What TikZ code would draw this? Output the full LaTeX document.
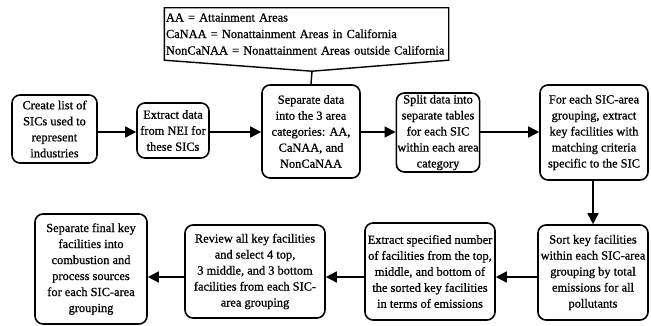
\documentclass[tikz,border=0pt]{standalone}
\usepackage{fontspec}
\setmainfont{Liberation Serif}[FakeBold=0.8]
\usetikzlibrary{arrows.meta,calc}
\begin{document}
\begin{tikzpicture}[x=1pt,y=-1pt,
  every node/.style={font=\fontsize{12.4}{16}\selectfont},
  stepbox/.style={draw, line width=1.6pt, rounded corners=8pt, align=center,
    inner sep=1pt},
  flow/.style={line width=1.6pt, -{Triangle[length=11pt,width=11pt]}}]
\useasboundingbox (0,0) rectangle (651,326);

% heights of the two rows of arrows
\coordinate (toprow) at (0,132);
\coordinate (lowrow) at (0,277);

% legend callout
\node[align=left, minimum width=284pt, minimum height=52pt, inner sep=1.5pt,
  text width=281pt] (legend) at (306.5,34)
  {AA = Attainment Areas\\[0.5pt]
   CaNAA = Nonattainment Areas in California\\[0.5pt]
   NonCaNAA = Nonattainment Areas outside California};
\coordinate (tip) at ($(legend.south)+(5.5,11)$);
\draw[line width=1.4pt, line join=miter]
  (legend.north west) -- (legend.north east) -- (legend.south east)
  -- (tip) -- (legend.south west) -- cycle;

% top row
\node[stepbox, minimum width=85pt, minimum height=68pt] (b1) at (54.5,129)
  {Create list of\\SICs used to\\represent\\industries};
\node[stepbox, minimum width=72pt, minimum height=55pt] (b2) at (173,130.5)
  {Extract data\\from NEI for\\these SICs};
\node[stepbox, minimum width=98pt, minimum height=93pt] (b3) at (311,131.5)
  {Separate data\\into the 3 area\\categories: AA,\\CaNAA, and\\NonCaNAA};
\node[stepbox, minimum width=76pt, minimum height=79pt] (b4) at (438,132.5)
  {Split data into\\separate tables\\for each SIC\\within each area\\category};
\node[stepbox, minimum width=108pt, minimum height=95pt] (b5) at (594,132.5)
  {For each SIC-area\\grouping, extract\\key facilities with\\matching criteria\\specific to the SIC};

% bottom row
\node[stepbox, minimum width=110pt, minimum height=95pt] (b6) at (593,272.5)
  {Sort key facilities\\within each SIC-area\\grouping by total\\emissions for all\\pollutants};
\node[stepbox, minimum width=130pt, minimum height=97pt] (b7) at (430,271.5)
  {Extract specified number\\of facilities from the top,\\middle, and bottom of\\the sorted key facilities\\in terms of emissions};
\node[stepbox, minimum width=140pt, minimum height=93pt] (b8) at (255,271.5)
  {Review all key facilities\\and select 4 top,\\3 middle, and 3 bottom\\facilities from each SIC-\\area grouping};
\node[stepbox, minimum width=112pt, minimum height=110pt] (b9) at (91,269)
  {Separate final key\\facilities into\\combustion and\\process sources\\for each SIC-area\\grouping};

% connectors
\draw[line width=1.4pt] (tip) -- (b3.north);
\draw[flow] (b1.east |- toprow) -- (b2.west |- toprow);
\draw[flow] (b2.east |- toprow) -- (b3.west |- toprow);
\draw[flow] (b3.east |- toprow) -- (b4.west |- toprow);
\draw[flow] (b4.east |- toprow) -- (b5.west |- toprow);
\draw[flow] (b5.south -| b6.north) -- (b6.north);
\draw[flow] (b6.west |- lowrow) -- (b7.east |- lowrow);
\draw[flow] (b7.west |- lowrow) -- (b8.east |- lowrow);
\draw[flow] (b8.west |- lowrow) -- (b9.east |- lowrow);
\end{tikzpicture}
\end{document}
